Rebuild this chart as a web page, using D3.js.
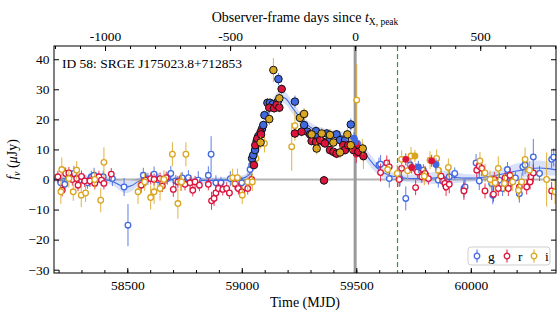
<!DOCTYPE html>
<html>
<head>
<meta charset="utf-8">
<script src="https://cdn.jsdelivr.net/npm/d3@7"></script>
<style>
  body { margin: 0; background: #fff; }
  text { font-family: "Liberation Serif", "Times New Roman", serif; }
</style>
</head>
<body>
<div id="chart"></div>
<script>
// ---- data: [MJD, flux (uJy), error] ----
const gOpen = [
  [58209,-1.1,2.5],[58227,-1.6,2],[58267,2,2.5],[58299,-0.2,2],[58326,-1.1,2],[58343,0.9,2],[58355,1.4,2.5],
  [58369,0,2],[58395,0.9,2],[58435,0.3,2.5],[58486,-2.5,3],[58503,-15.2,7],[58570,1.4,2.5],[58590,0.2,2],
  [58617,1.8,2.5],[58634,0,2],[58653,-0.8,2],[58675,0.3,2],[58690,2,2.5],[58712,-0.5,2],[58740,0.5,2],
  [58767,0.6,2.5],[58810,-0.2,3],[58854,1.4,3],[58866,8.4,6],[58887,-1.1,2.5],[58909,-1.1,2],[58950,0.3,2.5],
  [59000,-1.1,2],[59036,3.3,2],[59043,4.8,2.5],
  [59599,4.8,2.5],[59606,5.1,3],[59644,0.3,3],[59691,0.3,2.5],[59716,-6.3,4],[59735,4.8,2.5],[59760,3.5,2],
  [59793,3.1,2],[59858,-0.2,2.5],[59877,-0.5,2],[59906,0.9,2.5],[59930,2,2],[59970,-3,3],[59975,-2.5,2.5],
  [60023,5.5,3],[60037,-0.5,3],[60091,-1.3,2.5],[60096,-5.2,3],[60125,-0.2,2.5],[60139,-3,2.5],[60160,3.3,2.5],
  [60171,-1.3,2.5],[60195,0.5,2],[60212,-4.7,3],[60227,4.2,3],[60237,4.8,3],[60273,7.5,6],[60300,2,2.5],
  [60353,6.7,3],[60362,7.4,3]
];
const rOpen = [
  [58197,0.9,2],[58216,-3.6,2],[58231,2,2],[58245,2.2,2],[58260,0,2],[58279,0.3,2],[58285,-1.9,2],[58300,1,2],
  [58314,-0.5,2],[58337,-0.5,2],[58358,-1.3,2],[58376,0.9,2],[58387,-0.2,2],[58398,-1.3,2],[58430,1.8,2],
  [58561,-1.9,2.5],[58580,-0.2,2],[58602,0.3,2],[58617,0,2],[58643,0.3,2],[58653,-2.2,2],[58670,0.6,2],
  [58701,-3.3,2.5],[58721,-0.8,2],[58752,-1.6,2],[58774,-1.1,2],[58786,-3.6,2],[58796,-0.8,2],[58815,-1.9,2],
  [58854,-1.6,2],[58868,-7.1,3],[58879,-6.3,2.5],[58887,-4.5,2],[58898,-3,2],[58917,-3.3,2],[58934,-3,2],
  [58946,-4.5,2],[58970,-1.4,2],[58985,-3,2],[59000,-4.1,2],[59026,-3,2],[59043,0,2],
  [59606,2.3,3],[59633,5.5,2.5],[59644,4.2,2.5],[59687,0,2.5],[59698,3.7,2.5],[59759,-2.7,2.5],[59767,2.5,2],
  [59786,0.9,2],[59800,2,2.5],[59815,0.3,2],[59870,1.1,2.5],[59887,-1.3,2.5],[59892,-2.5,3],[59906,-1.6,3],
  [59970,-3.8,3],[60026,3.1,2.5],[60037,4.4,2.5],[60048,3.7,2.5],[60062,-3.8,2.5],[60099,-4.9,2.5],
  [60103,0,2.5],[60120,-3,2.5],[60150,0.5,2],[60164,-3,2.5],[60171,1.4,2.5],[60212,-2.5,2.5],[60244,-2.5,2.5],
  [60259,-0.8,2.5],[60262,0.9,2.5],[60273,2.2,3],[60353,-3.8,3]
];
const iOpen = [
  [58210,-4.1,4],[58214,3.3,4],[58245,0.3,3],[58264,-4.1,3],[58279,3.1,3],[58299,-5.2,4],[58318,-4.5,3],
  [58358,0,3],[58384,-6.9,4],[58398,5.7,5],[58547,-4.1,4],[58576,-0.8,3],[58602,-6,4],[58617,-4.1,4],
  [58643,-3,4],[58660,0,3],[58697,8.4,4],[58721,-8,5],[58733,-0.8,3],[58737,-0.8,3],[58756,8.4,4],
  [58960,0.6,3],[58981,0.6,3],[59002,-5.2,3],[59026,-0.8,3],[59046,-0.8,3],
  [59062,7,2],[59099,12,3],[59218,10.9,8],[59232,17.9,5],[59502,26.4,12],[59526,10.5,3],[59531,7.5,4],
  [59637,3.3,3],[59679,2,3],[59698,6.7,3],[59724,2.9,3],[59739,7.8,3],[59797,1.1,3],[59822,6.4,3],
  [59851,7,3],[59858,3.1,3],[59902,4,3],[60040,6.2,3],[60062,2.2,3],[60084,0,3],[60106,-1.1,3],
  [60120,3.7,4],[60147,-1.3,3],[60183,-0.8,3],[60208,-3.6,3],[60222,-0.8,3],[60237,6.7,4],[60256,3.1,3],
  [60331,0,9],[60368,-4.1,4]
];
// detections (filled, black edge)
const gDet = [
  [59045,7,1.5],[59050,8.1,1.5],[59058,9.8,1.5],[59065,12.8,1.5],[59072,14.4,1.5],[59088,16.8,1.5],
  [59094,18.1,1.5],[59099,21.4,1.5],[59112,25.5,1.5],[59123,25.5,1.5],[59135,25,1.5],[59157,25.9,1.5],
  [59160,33.4,2],[59232,25.9,2],[59272,18.1,2],[59286,15.9,1.5],[59324,16.1,1.5],[59334,14.2,1.5],
  [59356,12.5,1.5],[59371,15.3,1.5],[59385,13.1,1.5],[59414,15,1.5],[59429,13.1,1.5],[59451,13.1,1.5],
  [59476,18.3,2]
];
const rDet = [
  [59053,4.8,1.5],[59059,11.4,1.5],[59068,13.6,1.5],[59082,15.7,1.5],[59084,15,1.5],[59120,23.9,1.5],
  [59141,23.7,1.5],[59152,24.8,1.5],[59164,23.9,1.5],[59174,30.1,1.5],[59232,15.3,1.5],[59261,15.9,1.5],
  [59298,15,1.5],[59305,12.8,1.5],[59324,12.5,1.5],[59342,13.1,1.5],[59359,-0.3,1.5],[59363,12,1.5],
  [59385,9.8,1.5],[59400,9.2,1.5],[59414,8.6,1.5],[59443,11.4,1.5],[59451,9.8,1.5],[59465,11.4,1.5],
  [59487,9.8,1.5],[59509,9.2,1.5],[59531,7.8,1.5]
];
const iDet = [
  [59082,12.3,2],[59120,20.1,2],[59138,36.4,4],[59164,27,2],[59254,20.5,2],[59272,21.8,2],[59305,15,2],
  [59327,10.3,2],[59349,15.3,2],[59385,14.8,2],[59400,12.3,2],[59429,9,2],[59461,15,2],[59476,11.4,2],
  [59528,10.3,2]
];
// filled, no black edge
const gSoft = [[59490,13.7,2],[59505,12,2],[59771,4.2,2],[59848,5,2]];
const rSoft = [[59495,10,2],[59500,8.5,3],[59510,10.5,2],[59716,6.7,2],[59742,4,2],[59829,6.2,2]];
const iSoft = [[59756,7.8,2]];

// GP model
const modelT = [58180,58250,58320,58400,58440,58470,58494,58520,58550,58600,58700,58800,58900,58960,59000,
  59030,59050,59070,59090,59110,59130,59160,59190,59220,59250,59280,59320,59360,59400,59440,59480,59510,
  59540,59570,59600,59640,59680,59720,59780,59840,59900,59960,60020,60080,60140,60200,60260,60300,60340,60372];
const modelMean = [0.3,0.5,0.3,0,-0.8,-2,-2.5,-2,-0.6,0.2,0,-0.3,-0.3,0,0.3,1.5,4,9.5,15,20,24.5,27.5,27,
  24,21,18.5,16.5,15.5,15,14.5,13.5,11.5,8.5,5.5,3.2,1.5,0.8,0.4,0.3,0.5,0.8,0.5,0.5,1,1.8,2.8,3.6,3.8,3.6,3.2];
const modelSig = [1.2,1,1,1,1.3,1.8,2,1.8,1.3,1,1,1,1,1,1,1.2,1.5,1.5,1.5,1.5,1.5,1.8,2,2,1.8,1.6,1.5,1.5,
  1.5,1.5,1.6,1.8,2,2,1.8,1.5,1.2,1.2,1.5,2,2.2,1.5,1.2,1.5,2,2.5,2.5,2.5,2.3,2];

const tPeak = 59495;
const tOptical = 59680;
const xTicks = [58500, 59000, 59500, 60000];
const yTicks = [-30, -20, -10, 0, 10, 20, 30, 40];
const topTicks = [-1000, -500, 0, 500];
const bands = ["g", "r", "i"];
const colors = { g: "#4169e1", r: "#dc143c", i: "#daa520" };

// ---- layout ----
const MARGIN = { TOP: 46, BOTTOM: 47, LEFT: 54, RIGHT: 4 };
const WIDTH = 560 - MARGIN.LEFT - MARGIN.RIGHT;
const HEIGHT = 320 - MARGIN.TOP - MARGIN.BOTTOM;

const svg = d3.select("#chart").append("svg")
  .attr("width", 560).attr("height", 320);
const g = svg.append("g")
  .attr("transform", "translate(" + MARGIN.LEFT + "," + MARGIN.TOP + ")");

const x = d3.scaleLinear().domain([58180, 60372]).range([0, WIDTH]);
const y = d3.scaleLinear().domain([-31.1, 44.4]).range([HEIGHT, 0]);
const xTop = d3.scaleLinear().domain([-1204, 803]).range([0, WIDTH]);

g.append("clipPath").attr("id", "clip")
  .append("rect").attr("width", WIDTH).attr("height", HEIGHT);
const plot = g.append("g").attr("clip-path", "url(#clip)");

// reference lines
plot.append("line")
  .attr("x1", 0).attr("x2", WIDTH).attr("y1", y(0)).attr("y2", y(0))
  .attr("stroke", "#b3b3b3").attr("stroke-width", 2);
plot.append("line")
  .attr("x1", x(tPeak)).attr("x2", x(tPeak)).attr("y1", 0).attr("y2", HEIGHT)
  .attr("stroke", "#9a9a9a").attr("stroke-width", 3);
plot.append("line")
  .attr("x1", x(tOptical)).attr("x2", x(tOptical)).attr("y1", 0).attr("y2", HEIGHT)
  .attr("stroke", "#2e9a3a").attr("stroke-width", 1.2).attr("stroke-dasharray", "5,3");

// GP model band and line
const model = modelT.map((t, k) => ({ t: t, m: modelMean[k], s: modelSig[k] }));
plot.append("path").datum(model)
  .attr("d", d3.area().curve(d3.curveCatmullRom)
    .x(d => x(d.t)).y0(d => y(d.m - d.s)).y1(d => y(d.m + d.s)))
  .attr("fill", "#4169e1").attr("fill-opacity", 0.2);
plot.append("path").datum(model)
  .attr("d", d3.line().curve(d3.curveCatmullRom).x(d => x(d.t)).y(d => y(d.m)))
  .attr("fill", "none").attr("stroke", "#4169e1").attr("stroke-width", 1.1);

function drawPoints(data, color, kind) {
  const grp = plot.append("g");
  grp.selectAll("line").data(data).enter().append("line")
    .attr("x1", d => x(d[0])).attr("x2", d => x(d[0]))
    .attr("y1", d => y(d[1] - d[2])).attr("y2", d => y(d[1] + d[2]))
    .attr("stroke", color).attr("stroke-width", 1).attr("stroke-opacity", 0.85);
  grp.selectAll("circle").data(data).enter().append("circle")
    .attr("cx", d => x(d[0])).attr("cy", d => y(d[1]))
    .attr("r", kind === "det" ? 3.8 : 2.8)
    .attr("fill", kind === "open" ? "#fff" : color)
    .attr("stroke", kind === "det" ? "#111" : color)
    .attr("stroke-width", kind === "det" ? 1 : 1.3);
}

drawPoints(gOpen, colors.g, "open");
drawPoints(rOpen, colors.r, "open");
drawPoints(iOpen, colors.i, "open");
drawPoints(gSoft, colors.g, "soft");
drawPoints(rSoft, colors.r, "soft");
drawPoints(iSoft, colors.i, "soft");
drawPoints(gDet, colors.g, "det");
drawPoints(rDet, colors.r, "det");
drawPoints(iDet, colors.i, "det");

// ---- axes (ticks point inward) ----
function styleAxis(sel) {
  sel.select(".domain").remove();
  sel.selectAll("line").attr("stroke", "#000");
  sel.selectAll("text").attr("fill", "#000").style("font-size", "13.5px")
    .style("font-family", "'Liberation Serif', serif");
}

g.append("g").attr("transform", "translate(0," + HEIGHT + ")")
  .call(d3.axisBottom(x).tickValues(xTicks).tickFormat(d3.format("d")).tickSizeInner(-5).tickSizeOuter(0).tickPadding(7))
  .call(styleAxis);
g.append("g").attr("transform", "translate(0," + HEIGHT + ")")
  .call(d3.axisBottom(x).tickValues(d3.range(58200, 60400, 100)).tickFormat("").tickSizeInner(-3).tickSizeOuter(0))
  .call(styleAxis);

g.append("g")
  .call(d3.axisTop(xTop).tickValues(topTicks).tickFormat(d => String(d)).tickSizeInner(-5).tickSizeOuter(0).tickPadding(5))
  .call(styleAxis);
g.append("g")
  .call(d3.axisTop(xTop).tickValues(d3.range(-1200, 900, 100)).tickFormat("").tickSizeInner(-3).tickSizeOuter(0))
  .call(styleAxis);

g.append("g")
  .call(d3.axisLeft(y).tickValues(yTicks).tickSizeInner(-5).tickSizeOuter(0).tickPadding(4.5))
  .call(styleAxis);
g.append("g").attr("transform", "translate(" + WIDTH + ",0)")
  .call(d3.axisRight(y).tickValues(yTicks).tickFormat("").tickSizeInner(-5).tickSizeOuter(0))
  .call(styleAxis);

// frame
g.append("rect").attr("width", WIDTH).attr("height", HEIGHT)
  .attr("fill", "none").attr("stroke", "#000").attr("stroke-width", 1);

// ---- labels ----
svg.append("text")
  .attr("x", MARGIN.LEFT + WIDTH / 2).attr("y", 306.5)
  .attr("text-anchor", "middle").style("font-size", "14px")
  .text("Time (MJD)");

const topLabel = svg.append("text")
  .attr("x", MARGIN.LEFT + WIDTH / 2).attr("y", 22)
  .attr("text-anchor", "middle").style("font-size", "14px");
topLabel.append("tspan").text("Observer-frame days since ");
topLabel.append("tspan").style("font-style", "italic").text("t");
topLabel.append("tspan").attr("dy", 3).style("font-size", "9.5px").text("X, peak");

const yLabel = svg.append("text")
  .attr("transform", "translate(17," + (MARGIN.TOP + HEIGHT / 2) + ") rotate(-90)")
  .attr("text-anchor", "middle").style("font-size", "14px");
yLabel.append("tspan").style("font-style", "italic").text("f");
yLabel.append("tspan").attr("dy", 3).style("font-size", "10px").style("font-style", "italic").text("ν");
yLabel.append("tspan").attr("dy", -3).text(" (");
yLabel.append("tspan").style("font-style", "italic").text("μ");
yLabel.append("tspan").text("Jy)");

svg.append("text")
  .attr("x", 62).attr("y", 68)
  .style("font-size", "13.5px")
  .text("ID 58: SRGE J175023.8+712853");

// ---- legend ----
const legend = svg.append("g").attr("transform", "translate(468,247)");
legend.append("rect")
  .attr("width", 82).attr("height", 18).attr("rx", 3)
  .attr("fill", "#fff").attr("fill-opacity", 0.85)
  .attr("stroke", "#cfcfcf").attr("stroke-width", 1);
const legendX = { g: 9, r: 39, i: 66 };
bands.forEach(b => {
  const item = legend.append("g").attr("transform", "translate(" + legendX[b] + ",9)");
  item.append("line").attr("y1", -6.5).attr("y2", 6.5)
    .attr("stroke", colors[b]).attr("stroke-width", 1);
  item.append("circle").attr("r", 2.8)
    .attr("fill", "#fff").attr("stroke", colors[b]).attr("stroke-width", 1.3);
  item.append("text").attr("x", 11).attr("y", 4.5)
    .style("font-size", "13.5px").text(b);
});
</script>
</body>
</html>
